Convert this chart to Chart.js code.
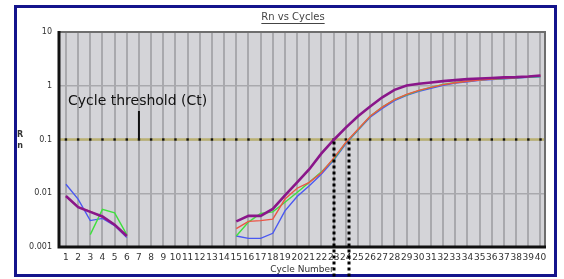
<!DOCTYPE html>
<html>
<head>
<meta charset="utf-8">
<title>Rn vs Cycles</title>
<script src="https://cdn.jsdelivr.net/npm/chart.js@4/dist/chart.umd.min.js"></script>
<style>
  html, body { margin: 0; padding: 0; background: #fff; overflow: hidden; }
  canvas { display: block; }
</style>
</head>
<body>
<canvas id="rnChart" width="564" height="279"></canvas>
<script>
// Données
const cycles = [1, 2, 3, 4, 5, 6, 7, 8, 9, 10, 11, 12, 13, 14, 15, 16, 17, 18, 19, 20,
                21, 22, 23, 24, 25, 26, 27, 28, 29, 30, 31, 32, 33, 34, 35, 36, 37, 38, 39, 40];
const yTicks = [0.001, 0.01, 0.1, 1, 10];
const threshold = 0.1;
const ctValues = [23.0, 24.3];

const rnPurple = [0.0089, 0.0055, 0.0045, 0.0037, 0.0026, 0.0016,
  null, null, null, null, null, null, null, null,
  0.0030, 0.0038, 0.0038, 0.0051, 0.0091, 0.0159, 0.028, 0.055, 0.098, 0.166,
  0.27, 0.41, 0.61, 0.84, 1.01, 1.09, 1.15, 1.22, 1.27, 1.33, 1.36, 1.39, 1.43, 1.45, 1.49, 1.55];
const rnRed = [0.0087, 0.0056, 0.0046, 0.0036, 0.0026, 0.0016,
  null, null, null, null, null, null, null, null,
  0.0022, 0.0030, 0.0031, 0.0033, 0.0078, 0.0124, 0.016, 0.024, 0.045, 0.088,
  0.155, 0.27, 0.40, 0.55, 0.69, 0.82, 0.93, 1.05, 1.14, 1.21, 1.28, 1.33, 1.37, 1.42, 1.48, 1.53];
const rnGreen = [null, null, 0.0017, 0.0050, 0.0043, 0.0017,
  null, null, null, null, null, null, null, null,
  0.0016, 0.0029, 0.0042, 0.0045, 0.0068, 0.0103, 0.016, 0.025, 0.043, 0.087,
  0.152, 0.27, 0.40, 0.55, 0.68, 0.81, 0.93, 1.06, 1.15, 1.22, 1.29, 1.33, 1.36, 1.41, 1.45, 1.48];
const rnBlue = [0.0147, 0.0078, 0.0031, 0.0034, 0.0025, 0.0015,
  null, null, null, null, null, null, null, null,
  0.0016, 0.00145, 0.00145, 0.0018, 0.0047, 0.0087, 0.0138, 0.0227, 0.041, 0.083,
  0.148, 0.26, 0.38, 0.53, 0.66, 0.79, 0.90, 1.02, 1.12, 1.19, 1.26, 1.31, 1.35, 1.39, 1.43, 1.46];

const xMin = 0.43;
const xMax = 40.37;

function toPoints(values) {
  return values.map((v, i) => ({ x: cycles[i], y: v }));
}

function serie(label, values, color, width, order) {
  return {
    label: label,
    data: toPoints(values),
    borderColor: color,
    borderWidth: width,
    pointRadius: 0,
    spanGaps: false,
    tension: 0,
    order: order
  };
}

// Ligne de seuil (Ct) avec les petits carrés noirs
const thresholdPoints = [{ x: xMin, y: threshold }]
  .concat(cycles.map(c => ({ x: c, y: threshold })))
  .concat([{ x: xMax, y: threshold }]);

// Décor : fond, cadre, titre, annotations
const decorPlugin = {
  id: 'decor',
  beforeDraw(chart) {
    const { ctx, chartArea: a } = chart;
    ctx.save();
    ctx.fillStyle = '#ffffff';
    ctx.fillRect(0, 0, chart.width, chart.height);
    ctx.fillStyle = '#d4d4d8';
    ctx.fillRect(a.left, a.top, a.right - a.left, a.bottom - a.top);
    ctx.restore();
  },
  afterDatasetsDraw(chart) {
    const { ctx, chartArea: a } = chart;
    const x = chart.scales.x, y = chart.scales.y;
    ctx.save();
    // cadre du graphique
    ctx.strokeStyle = '#6e6e6e';
    ctx.lineWidth = 2;
    ctx.beginPath();
    ctx.moveTo(a.left, a.top);
    ctx.lineTo(a.right, a.top);
    ctx.lineTo(a.right, a.bottom);
    ctx.stroke();
    ctx.strokeStyle = '#111';
    ctx.lineWidth = 3;
    ctx.beginPath();
    ctx.moveTo(a.left, a.top - 1);
    ctx.lineTo(a.left, a.bottom);
    ctx.lineTo(a.right + 1, a.bottom);
    ctx.stroke();

    // texte "Cycle threshold (Ct)" et sa flèche
    ctx.fillStyle = '#111';
    ctx.font = '14px "DejaVu Sans"';
    ctx.textAlign = 'left';
    ctx.textBaseline = 'middle';
    ctx.fillText('Cycle threshold (Ct)', a.left + 9, 101);
    const ax = x.getPixelForValue(7);
    ctx.strokeStyle = '#111';
    ctx.lineWidth = 2;
    ctx.beginPath();
    ctx.moveTo(ax, 111);
    ctx.lineTo(ax, y.getPixelForValue(threshold));
    ctx.stroke();
    ctx.restore();
  },
  afterDraw(chart) {
    const { ctx, chartArea: a } = chart;
    const x = chart.scales.x, y = chart.scales.y;
    ctx.save();
    // cadre bleu extérieur
    ctx.strokeStyle = '#14148c';
    ctx.lineWidth = 3;
    ctx.strokeRect(15.5, 6.5, 540, 269);

    // titre souligné
    ctx.fillStyle = '#444';
    ctx.font = '10px "DejaVu Sans"';
    ctx.textAlign = 'center';
    ctx.textBaseline = 'middle';
    const titre = 'Rn vs Cycles';
    ctx.fillText(titre, 293, 17);
    const w = ctx.measureText(titre).width;
    ctx.strokeStyle = '#444';
    ctx.lineWidth = 1;
    ctx.beginPath();
    ctx.moveTo(293 - w / 2, 23.5);
    ctx.lineTo(293 + w / 2, 23.5);
    ctx.stroke();

    // titre de l'axe Y, lettres empilées
    ctx.fillStyle = '#333';
    ctx.font = 'bold 8px "DejaVu Sans"';
    ctx.fillText('R', 20, 135);
    ctx.fillText('n', 20, 146);

    // lignes pointillées verticales aux Ct
    ctx.strokeStyle = '#000';
    ctx.lineWidth = 3;
    ctx.setLineDash([3, 3]);
    ctValues.forEach(ct => {
      const px = Math.round(x.getPixelForValue(ct));
      ctx.beginPath();
      ctx.moveTo(px, y.getPixelForValue(threshold) + 2);
      ctx.lineTo(px, chart.height);
      ctx.stroke();
    });
    ctx.restore();
  }
};

function initChart() {
  const ctx = document.getElementById('rnChart').getContext('2d');
  new Chart(ctx, {
    type: 'line',
    data: {
      datasets: [
        serie('Purple', rnPurple, '#8a168a', 2.6, 1),
        serie('Red', rnRed, '#ec5446', 1.4, 2),
        serie('Green', rnGreen, '#3fe03f', 1.4, 3),
        serie('Blue', rnBlue, '#4a58f2', 1.4, 4),
        {
          label: 'Threshold',
          data: thresholdPoints,
          borderColor: '#bab172',
          borderWidth: 2.5,
          pointStyle: 'rect',
          pointRadius: c => (c.dataIndex === 0 || c.dataIndex === cycles.length + 1) ? 0 : 1.7,
          pointBackgroundColor: '#111',
          pointBorderWidth: 0,
          order: 5
        }
      ]
    },
    options: {
      responsive: false,
      animation: false,
      devicePixelRatio: 1,
      layout: { padding: { left: 0, right: 19, top: 32, bottom: 0 } },
      plugins: {
        legend: { display: false },
        title: { display: false },
        tooltip: { enabled: false }
      },
      scales: {
        x: {
          type: 'linear',
          min: xMin,
          max: xMax,
          afterBuildTicks: s => { s.ticks = cycles.map(c => ({ value: c })); },
          afterFit: s => { s.height = 32; },
          grid: { color: '#a9a9ad', lineWidth: 2, drawTicks: false },
          border: { display: false },
          ticks: {
            autoSkip: false,
            maxRotation: 0,
            minRotation: 0,
            padding: 5,
            color: '#333',
            font: { family: 'DejaVu Sans', size: 9 },
            callback: v => String(v)
          },
          title: {
            display: true,
            text: 'Cycle Number',
            color: '#333',
            font: { family: 'DejaVu Sans', size: 9 },
            padding: { top: 0, bottom: 4 }
          }
        },
        y: {
          type: 'logarithmic',
          min: 0.001,
          max: 10,
          afterBuildTicks: s => { s.ticks = yTicks.map(v => ({ value: v })); },
          afterFit: s => { s.width = 59; },
          grid: { color: '#a9a9ad', lineWidth: 1.5, drawTicks: false },
          border: { display: false },
          ticks: {
            padding: 7,
            color: '#333',
            font: { family: 'DejaVu Sans', size: 8 },
            callback: v => String(v)
          }
        }
      }
    },
    plugins: [decorPlugin]
  });
}

window.onload = function() {
  initChart();
};
</script>
</body>
</html>
